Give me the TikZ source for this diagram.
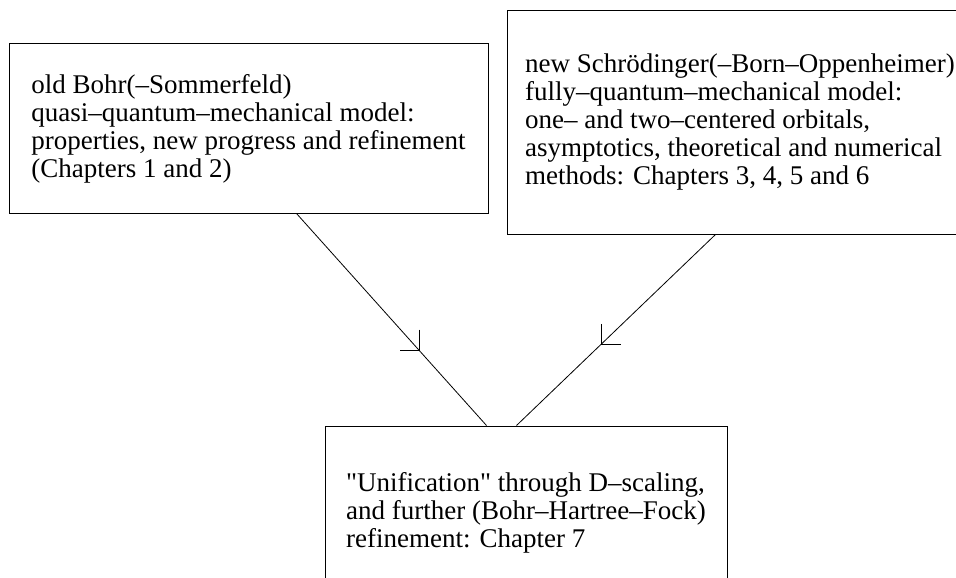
\documentclass[tikz,border=0pt]{standalone}
\usepackage{fontspec}
\newfontfamily\modelfont{Liberation Serif}
\usetikzlibrary{calc,positioning}

\begin{document}
\begin{tikzpicture}[x=1pt, y=-1pt]
		\tikzstyle{every node}=[font=\modelfont\fontsize{27}{28}\selectfont]
		\tikzstyle{model}=[draw, line width=1pt, align=left, inner sep=0pt]
		\tikzstyle{flow}=[line width=0.8pt]
		\useasboundingbox (0,0) rectangle (956,578);
		\node [model, minimum width=479pt, minimum height=169pt] (bohr) at (248.5,128.5) {old Bohr(–Sommerfeld)\\quasi–quantum–mechanical model:\\properties, new progress and refinement\\(Chapters 1 and 2)};
		\node [model, minimum width=466pt, minimum height=223pt] (schrod) at (740,122.5) {new Schrödinger(–Born–Oppenheimer)\\fully–quantum–mechanical model:\\one– and two–centered orbitals,\\asymptotics, theoretical and numerical\\methods: Chapters 3, 4, 5 and 6};
		\node [model, minimum width=402pt, minimum height=174pt] (unify) at (526,513) {"Unification" through D–scaling,\\and further (Bohr–Hartree–Fock)\\refinement: Chapter 7};
		% connector ends on the box edges
		\coordinate (bohrout) at ([xshift=288pt]bohr.south west);
		\coordinate (schrodout) at ([xshift=209pt]schrod.south west);
		\coordinate (unifyinl) at ([xshift=162pt]unify.north west);
		\coordinate (unifyinr) at ([xshift=192pt]unify.north west);
		\coordinate (bohrtip) at ($(bohrout)!0.647!(unifyinl)$);
		\coordinate (schrodtip) at ($(schrodout)!0.573!(unifyinr)$);
		\draw [flow] (bohrout) -- (unifyinl);
		\draw [flow] (schrodout) -- (unifyinr);
		% open arrow heads half way
		\draw [flow] ([yshift=21pt]bohrtip) -- (bohrtip) -- ([xshift=-19pt]bohrtip);
		\draw [flow] ([yshift=20pt]schrodtip) -- (schrodtip) -- ([xshift=20pt]schrodtip);
	\end{tikzpicture}
\end{document}
